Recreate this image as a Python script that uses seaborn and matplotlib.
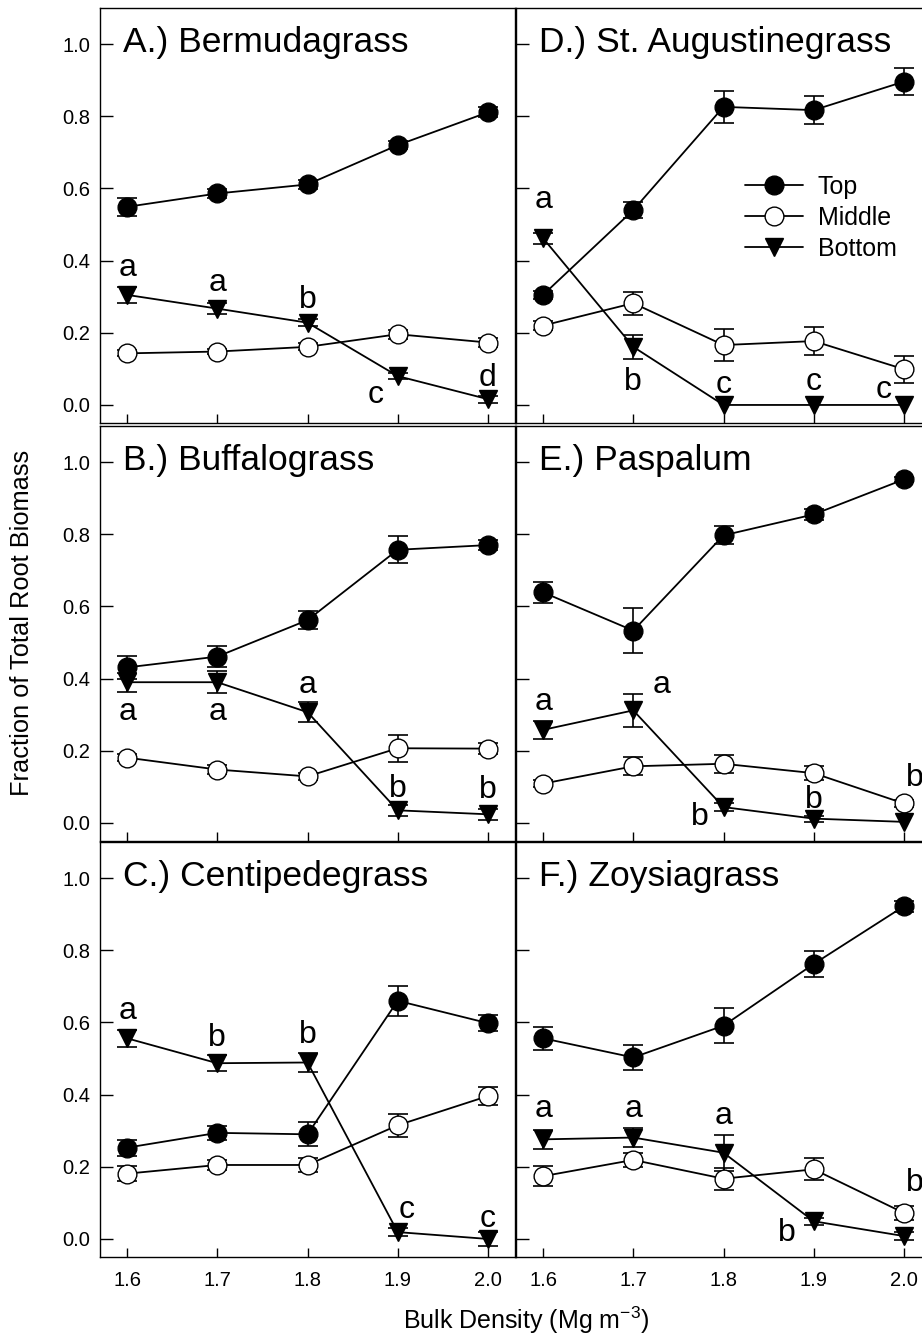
import numpy as np
import pandas as pd
import matplotlib
matplotlib.use("Agg")
import matplotlib.pyplot as plt
import seaborn as sns
from matplotlib.lines import Line2D

# ---- data (fraction of total root biomass, mean and SE) ----
bulk_density = [1.6, 1.7, 1.8, 1.9, 2.0]
layers = ["Top", "Middle", "Bottom"]
panel_titles = ["A.) Bermudagrass", "B.) Buffalograss", "C.) Centipedegrass",
                "D.) St. Augustinegrass", "E.) Paspalum", "F.) Zoysiagrass"]

# A.) Bermudagrass
bermuda_top = [0.549, 0.586, 0.611, 0.720, 0.811]
bermuda_top_se = [0.024, 0.012, 0.012, 0.012, 0.014]
bermuda_mid = [0.143, 0.148, 0.161, 0.196, 0.173]
bermuda_mid_se = [0.008, 0.008, 0.010, 0.012, 0.012]
bermuda_bot = [0.305, 0.267, 0.228, 0.080, 0.016]
bermuda_bot_se = [0.022, 0.015, 0.010, 0.008, 0.010]
bermuda_letters = ["a", "a", "b", "c", "d"]

# B.) Buffalograss
buffalo_top = [0.431, 0.461, 0.562, 0.757, 0.770]
buffalo_top_se = [0.032, 0.029, 0.025, 0.038, 0.014]
buffalo_mid = [0.181, 0.148, 0.129, 0.207, 0.206]
buffalo_mid_se = [0.010, 0.012, 0.010, 0.038, 0.015]
buffalo_bot = [0.390, 0.390, 0.307, 0.035, 0.024]
buffalo_bot_se = [0.026, 0.030, 0.027, 0.015, 0.015]
buffalo_letters = ["a", "a", "a", "b", "b"]

# C.) Centipedegrass
centipede_top = [0.253, 0.294, 0.290, 0.660, 0.598]
centipede_top_se = [0.022, 0.020, 0.033, 0.042, 0.023]
centipede_mid = [0.181, 0.205, 0.205, 0.315, 0.396]
centipede_mid_se = [0.020, 0.015, 0.020, 0.032, 0.025]
centipede_bot = [0.556, 0.487, 0.489, 0.019, 0.000]
centipede_bot_se = [0.023, 0.022, 0.026, 0.010, 0.020]
centipede_letters = ["a", "b", "b", "c", "c"]

# D.) St. Augustinegrass
staug_top = [0.305, 0.540, 0.826, 0.817, 0.896]
staug_top_se = [0.012, 0.023, 0.044, 0.038, 0.037]
staug_mid = [0.220, 0.282, 0.166, 0.177, 0.099]
staug_mid_se = [0.012, 0.032, 0.044, 0.038, 0.037]
staug_bot = [0.462, 0.161, 0.000, 0.000, 0.000]
staug_bot_se = [0.015, 0.034, 0.0, 0.0, 0.0]
staug_letters = ["a", "b", "c", "c", "c"]

# E.) Paspalum
paspalum_top = [0.639, 0.533, 0.797, 0.855, 0.952]
paspalum_top_se = [0.030, 0.062, 0.025, 0.015, 0.008]
paspalum_mid = [0.109, 0.157, 0.164, 0.138, 0.054]
paspalum_mid_se = [0.010, 0.025, 0.025, 0.020, 0.010]
paspalum_bot = [0.258, 0.312, 0.044, 0.012, 0.003]
paspalum_bot_se = [0.025, 0.045, 0.010, 0.008, 0.0]
paspalum_letters = ["a", "a", "b", "b", "b"]

# F.) Zoysiagrass
zoysia_top = [0.556, 0.503, 0.591, 0.762, 0.922]
zoysia_top_se = [0.031, 0.035, 0.048, 0.035, 0.015]
zoysia_mid = [0.174, 0.219, 0.167, 0.193, 0.072]
zoysia_mid_se = [0.027, 0.020, 0.030, 0.030, 0.020]
zoysia_bot = [0.276, 0.281, 0.239, 0.049, 0.008]
zoysia_bot_se = [0.027, 0.026, 0.050, 0.010, 0.010]
zoysia_letters = ["a", "a", "a", "b", "b"]

# ---- group per panel ----
panels = [
    (bermuda_top, bermuda_top_se, bermuda_mid, bermuda_mid_se, bermuda_bot, bermuda_bot_se),
    (buffalo_top, buffalo_top_se, buffalo_mid, buffalo_mid_se, buffalo_bot, buffalo_bot_se),
    (centipede_top, centipede_top_se, centipede_mid, centipede_mid_se, centipede_bot, centipede_bot_se),
    (staug_top, staug_top_se, staug_mid, staug_mid_se, staug_bot, staug_bot_se),
    (paspalum_top, paspalum_top_se, paspalum_mid, paspalum_mid_se, paspalum_bot, paspalum_bot_se),
    (zoysia_top, zoysia_top_se, zoysia_mid, zoysia_mid_se, zoysia_bot, zoysia_bot_se),
]
letters = [bermuda_letters, buffalo_letters, centipede_letters,
           staug_letters, paspalum_letters, zoysia_letters]

# where the significance letters sit (data coords)
letter_pos = [
    [(1.6, 0.380), (1.7, 0.338), (1.8, 0.290), (1.876, 0.028), (2.0, 0.075)],
    [(1.6, 0.307), (1.7, 0.307), (1.8, 0.383), (1.9, 0.095), (2.0, 0.090)],
    [(1.6, 0.633), (1.7, 0.558), (1.8, 0.564), (1.91, 0.081), (2.0, 0.056)],
    [(1.6, 0.568), (1.7, 0.065), (1.8, 0.055), (1.9, 0.065), (1.977, 0.042)],
    [(1.6, 0.335), (1.731, 0.381), (1.774, 0.017), (1.9, 0.063), (2.0125, 0.124)],
    [(1.6, 0.359), (1.7, 0.359), (1.8, 0.342), (1.870, 0.017), (2.0125, 0.156)],
]

sns.set_style("ticks")
plt.rcParams["font.family"] = ["Liberation Sans", "DejaVu Sans"]
plt.rcParams["mathtext.default"] = "regular"
plt.rcParams["text.color"] = "black"
plt.rcParams["xtick.color"] = "black"
plt.rcParams["ytick.color"] = "black"

styles = {
    "Top": dict(marker="o", markerfacecolor="black"),
    "Middle": dict(marker="o", markerfacecolor="white"),
    "Bottom": dict(marker="v", markerfacecolor="black"),
}

W, H = 922, 1337
fig = plt.figure(figsize=(W / 100, H / 100), dpi=100)

col_x = [100, 516]
row_top = [8, 426, 842]
ax_w, ax_h = 415, 415
yticks = [0.0, 0.2, 0.4, 0.6, 0.8, 1.0]

for i in range(6):
    col, row = i // 3, i % 3
    ax = fig.add_axes([col_x[col] / W, 1 - (row_top[row] + ax_h) / H, ax_w / W, ax_h / H])
    vals = panels[i]
    for j, layer in enumerate(layers):
        y = np.array(vals[2 * j])
        se = np.array(vals[2 * j + 1])
        m = se > 0
        ax.errorbar(np.array(bulk_density)[m], y[m], yerr=se[m], fmt="none",
                    ecolor="black", elinewidth=1.2, capsize=7, capthick=1.2, zorder=2)
        df = pd.DataFrame({"density": bulk_density, "fraction": y})
        sns.lineplot(data=df, x="density", y="fraction", ax=ax, color="black",
                     linewidth=1.3, markersize=13.5, markeredgecolor="black",
                     markeredgewidth=1.0, errorbar=None, zorder=3, **styles[layer])

    for (lx, ly), t in zip(letter_pos[i], letters[i]):
        ax.text(lx, ly, t, fontsize=23, ha="center", va="center", zorder=4)

    ax.text(0.056, 0.918, panel_titles[i], transform=ax.transAxes,
            fontsize=25.5, ha="left", va="center")

    ax.set_xlim(1.57, 2.03)
    ax.set_ylim(-0.05, 1.10)
    ax.set_xticks(bulk_density)
    ax.set_yticks(yticks)
    ax.set_xlabel("")
    ax.set_ylabel("")
    ax.tick_params(axis="y", direction="in", length=9.5, width=1.0, pad=7, labelsize=14.5)
    ax.tick_params(axis="x", direction="in", length=6.5, width=1.0, pad=10, labelsize=14.5)
    for s in ax.spines.values():
        s.set_visible(True)
        s.set_linewidth(1.0)
        s.set_color("black")
    if row < 2:
        ax.set_xticklabels([])
    else:
        ax.set_xticklabels([f"{v:.1f}" for v in bulk_density])
    if col == 1:
        ax.set_yticklabels([])
    else:
        ax.set_yticklabels([f"{v:.1f}" for v in yticks])

    if i == 3:
        handles = [Line2D([], [], color="black", linewidth=1.3, markersize=13.5,
                          markeredgecolor="black", markeredgewidth=1.0, **styles[l])
                   for l in layers]
        ax.legend(handles, layers, loc="upper left", bbox_to_anchor=(0.552, 0.597),
                  frameon=False, fontsize=18, handlelength=2.3, handletextpad=0.6,
                  labelspacing=0.28, borderpad=0, borderaxespad=0)

fig.text(0.024, 0.534, "Fraction of Total Root Biomass", rotation=90,
         fontsize=18.3, ha="center", va="center")
fig.text(526 / W, 0.006, r"Bulk Density (Mg m$^{-3}$)", fontsize=18,
         ha="center", va="baseline")

fig.savefig("out.png", dpi=100)
